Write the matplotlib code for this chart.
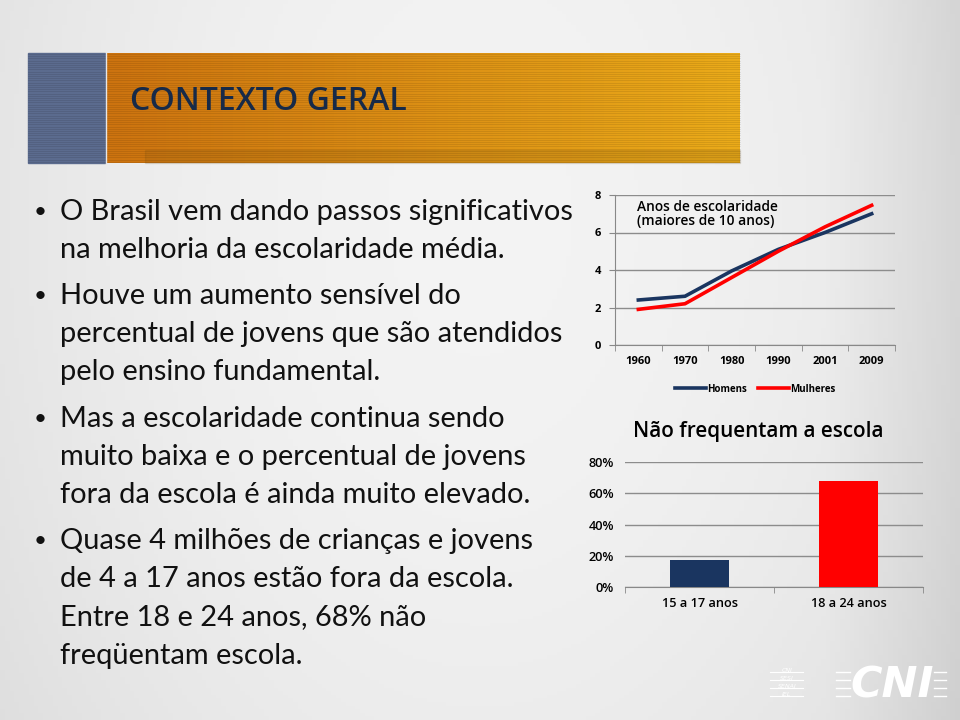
import numpy as np
import matplotlib
matplotlib.use('Agg')
import matplotlib.pyplot as plt

# -------------------------------- data
anos = ['1960', '1970', '1980', '1990', '2001', '2009']
homens = [2.4, 2.6, 3.95, 5.1, 6.0, 7.0]
mulheres = [1.9, 2.2, 3.6, 5.0, 6.3, 7.45]

faixas = ['15 a 17 anos', '18 a 24 anos']
nao_freq = [17.6, 68.0]

titulo = 'CONTEXTO GERAL'
bullets = [
    ['O Brasil vem dando passos significativos', 'na melhoria da escolaridade média.'],
    ['Houve um aumento sensível do', 'percentual de jovens que são atendidos', 'pelo ensino fundamental.'],
    ['Mas a escolaridade continua sendo', 'muito baixa e o percentual de jovens', 'fora da escola é ainda muito elevado.'],
    ['Quase 4 milhões de crianças e jovens', 'de 4 a 17 anos estão fora da escola.',
     'Entre 18 e 24 anos, 68% não', 'freqüentam escola.'],
]

navy = '#1a3560'
red = '#ff0000'
fnt = 'Lato'

W, H = 960, 720
fig = plt.figure(figsize=(9.6, 7.2), dpi=100)

# -------------------------------- background gradient
bg = fig.add_axes([0, 0, 1, 1])
yy, xx = np.mgrid[0:1:200j, 0:1:200j]
r = np.sqrt(((xx - 0.5) / 0.8) ** 2 + ((yy - 0.3) / 1.6) ** 2)
g = 0.955 - 0.14 * r ** 2
g = g - 0.06 * np.clip((xx - 0.86) / 0.14, 0, 1)
bg.imshow(np.dstack([g, g, g]).clip(0, 1), extent=[0, W, H, 0], aspect='auto')
bg.set_xlim(0, W)
bg.set_ylim(H, 0)
bg.axis('off')

# header boxes
bg.add_patch(plt.Rectangle((28, 53), 77, 110, color='#5b6b8e', zorder=2))
orng = np.linspace(0, 1, 200)
oc = np.array([[0.80 + 0.12 * t, 0.45 + 0.22 * t, 0.06 + 0.04 * t] for t in orng])
bg.imshow(oc[None, :, :], extent=[106, 740, 163, 53], aspect='auto', zorder=2)
bg.add_patch(plt.Rectangle((145, 150), 595, 13, color='#6a4a10', alpha=0.15, zorder=3))
for yl in np.arange(54, 163, 2.2):
    bg.plot([28, 740], [yl, yl], color='k', alpha=0.1, lw=0.6, zorder=4)
bg.plot([105.5, 105.5], [53, 163], color='#e6e6e6', lw=1, zorder=5)
bg.set_xlim(0, W)
bg.set_ylim(H, 0)
bg.text(130, 101, titulo, fontsize=23, color='#172a48', family='Open Sans',
        fontweight='semibold', va='center', zorder=6, fontstretch='condensed')

# bullet text
y0 = 212
gaps = [0, 84, 123, 122]
yb = y0
for i, grp in enumerate(bullets):
    yb = yb + gaps[i]
    bg.text(40, yb, '•', fontsize=16, va='center', ha='center', color='#111111', family=fnt)
    for j, line in enumerate(grp):
        bg.text(60, yb + j * 38.2, line, fontsize=20.9, va='center', color='#111111', family=fnt)

# logo
bg.text(892, 686, 'CNI', fontsize=31, color='white', fontweight='heavy', fontstyle='italic',
        ha='center', va='center', family='DejaVu Sans')
for yl in [672, 680, 688, 696]:
    bg.plot([770, 803], [yl, yl], color='white', lw=0.8)
    bg.plot([836, 850], [yl, yl], color='white', lw=1)
    bg.plot([934, 946], [yl, yl], color='white', lw=1)
for k, sig in enumerate(['CNI', 'SESI', 'SENAI', 'IEL']):
    bg.text(787, 672 + 8 * k - 1, sig, fontsize=4.5, color='white', fontstyle='italic',
            ha='center', va='center', family='DejaVu Sans')

# -------------------------------- line chart
ax = fig.add_axes([615 / W, 1 - 345 / H, 280 / W, 150 / H])
ax.patch.set_alpha(0)
x = np.arange(len(anos))
ax.plot(x, homens, color=navy, lw=2.6, label='Homens', zorder=3)
ax.plot(x, mulheres, color=red, lw=2.6, label='Mulheres', zorder=3)
ax.set_xlim(-0.5, len(anos) - 0.5)
ax.set_ylim(0, 8)
ax.set_yticks([0, 2, 4, 6, 8])
ax.set_xticks(x)
ax.set_xticklabels(anos)
ax.set_xticks(np.arange(-0.5, len(anos)), minor=True)
ax.tick_params(axis='x', which='major', length=0, pad=8)
ax.tick_params(axis='x', which='minor', length=4, color='#888888')
ax.tick_params(axis='y', length=4, color='#888888', pad=6)
for lab in ax.get_xticklabels() + ax.get_yticklabels():
    lab.set_fontsize(8)
    lab.set_fontweight('bold')
    lab.set_family('Open Sans')
ax.grid(axis='y', color='#8c8c8c', lw=1)
ax.set_axisbelow(True)
for s in ['top', 'right']:
    ax.spines[s].set_visible(False)
ax.spines['left'].set_color('#888888')
ax.spines['bottom'].set_color('#888888')
ax.text(-0.03, 7.75, 'Anos de escolaridade\n(maiores de 10 anos)', fontsize=9.9, va='top',
        family='Open Sans', fontweight='semibold', linespacing=1.0)
leg = ax.legend(loc='upper center', bbox_to_anchor=(0.5, -0.2), ncol=2, frameon=False,
                prop={'family': 'Open Sans', 'size': 7, 'weight': 'bold'},
                handlelength=3.2, handletextpad=0.1, columnspacing=1.2)

# -------------------------------- bar chart
ax2 = fig.add_axes([625 / W, 1 - 587 / H, 298 / W, 125 / H])
ax2.patch.set_alpha(0)
xb = np.arange(len(faixas))
ax2.bar(xb, nao_freq, width=0.4, color=[navy, red], zorder=3)
ax2.set_xlim(-0.5, len(faixas) - 0.5)
ax2.set_ylim(0, 80)
ax2.set_yticks([0, 20, 40, 60, 80])
ax2.set_yticklabels([f'{v}%' for v in [0, 20, 40, 60, 80]])
ax2.set_xticks(xb)
ax2.set_xticklabels(faixas)
ax2.set_xticks(np.arange(-0.5, len(faixas)), minor=True)
ax2.tick_params(axis='x', which='major', length=0, pad=7)
ax2.tick_params(axis='x', which='minor', length=4, color='#888888')
ax2.tick_params(axis='y', length=0, pad=8)
for lab in ax2.get_xticklabels() + ax2.get_yticklabels():
    lab.set_fontsize(9.2)
    lab.set_fontweight('semibold')
    lab.set_family('Open Sans')
ax2.grid(axis='y', color='#8c8c8c', lw=1)
ax2.set_axisbelow(True)
for s in ['top', 'right', 'left']:
    ax2.spines[s].set_visible(False)
ax2.spines['bottom'].set_color('#888888')
fig.text(758 / W, 1 - 431 / H, 'Não frequentam a escola', fontsize=14.9, ha='center', va='center',
         family='Open Sans', fontweight='semibold')

plt.savefig('out.png', dpi=100)
